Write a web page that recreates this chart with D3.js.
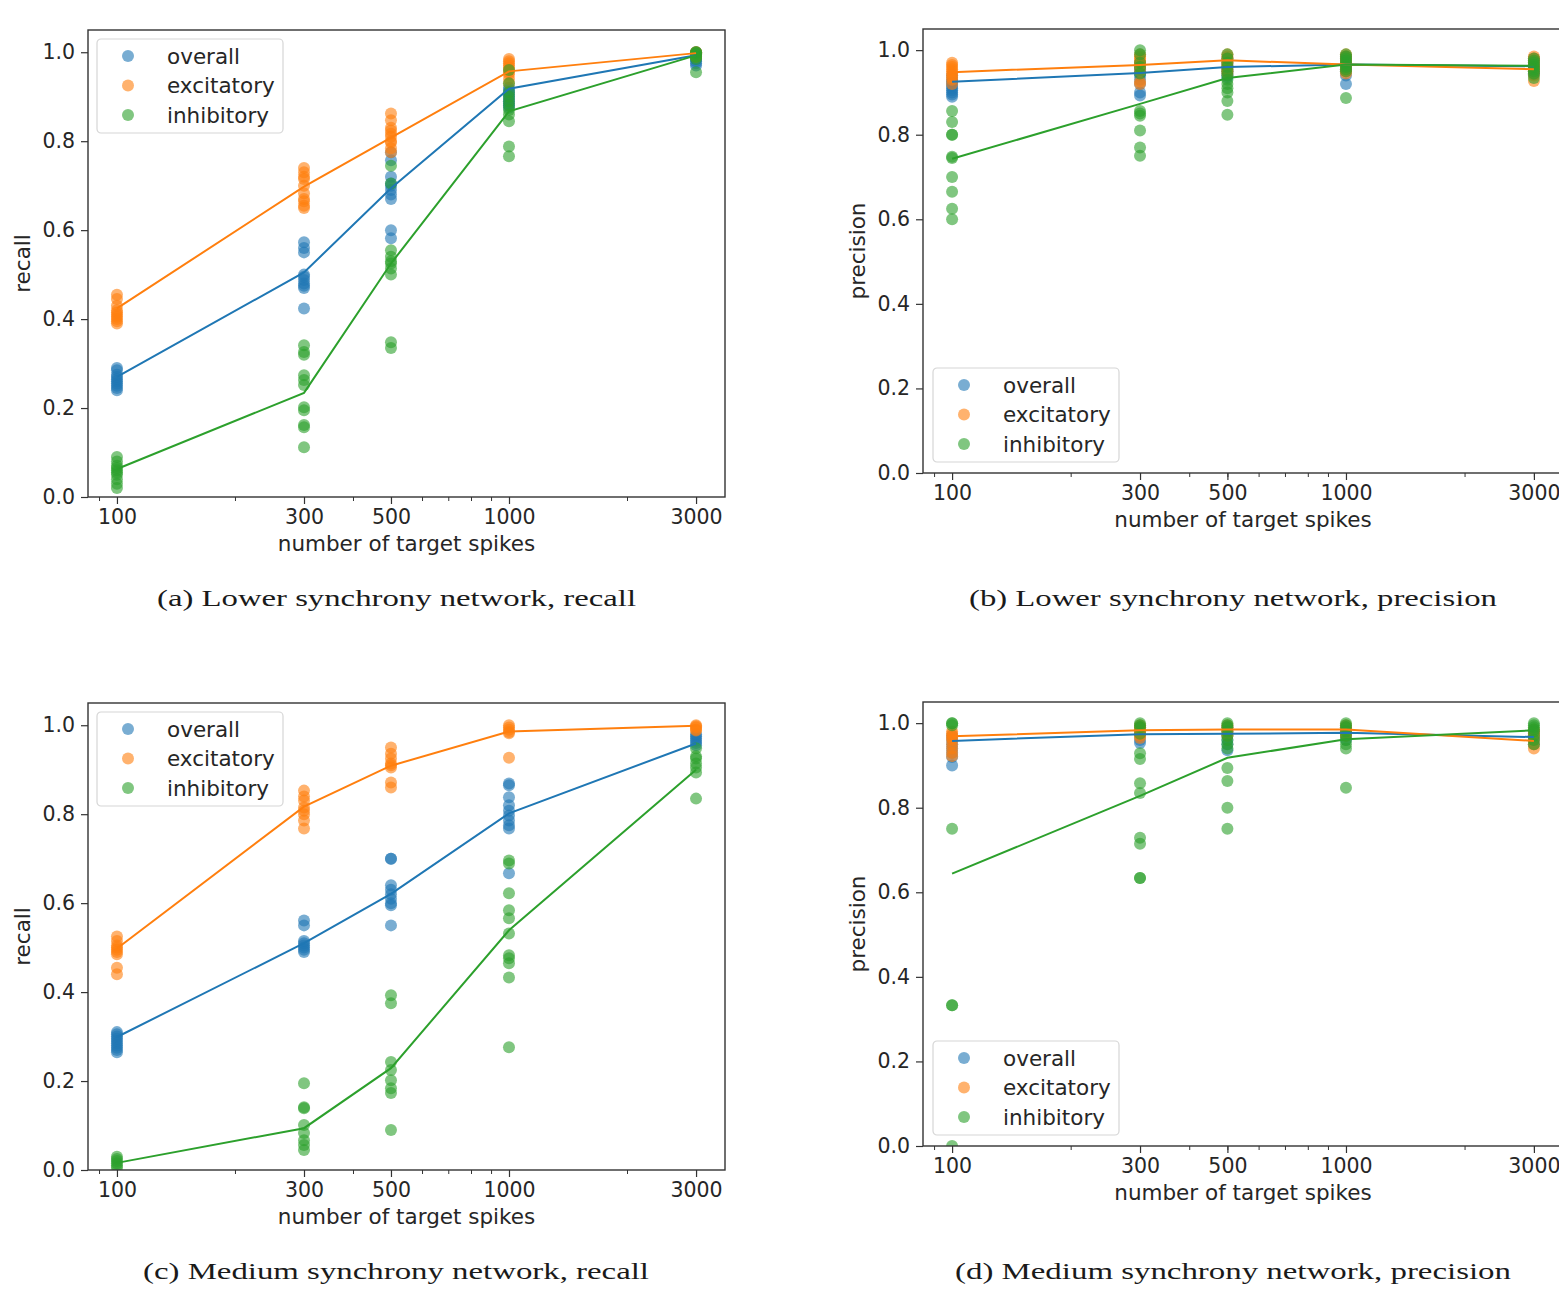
<!DOCTYPE html>
<html>
<head>
<meta charset="utf-8">
<script src="https://cdn.jsdelivr.net/npm/d3@7"></script>
<style>
  body { margin: 0; background: #fff; }
  text { font-family: "DejaVu Sans", sans-serif; fill: #262626; }
  .caption { font-family: "Liberation Serif", serif; fill: #1a1a1a; }
</style>
</head>
<body>
<script>
/*---------- données ----------*/
const spikes = [100, 300, 500, 1000, 3000];
const seriesNames = ["overall", "excitatory", "inhibitory"];
const colors = ["#1f77b4", "#ff7f0e", "#2ca02c"];
const yTicks = [0, 0.2, 0.4, 0.6, 0.8, 1.0];
const xTicks = [100, 300, 500, 1000, 3000];
const xMinor = [90, 200, 300, 400, 500, 600, 700, 800, 900, 2000, 3000];

// (a) lower synchrony, recall
const aOverall = [
  [0.29, 0.285, 0.275, 0.27, 0.265, 0.26, 0.255, 0.25, 0.245, 0.24],
  [0.573, 0.56, 0.55, 0.50, 0.495, 0.488, 0.48, 0.475, 0.47, 0.424],
  [0.775, 0.757, 0.72, 0.705, 0.70, 0.69, 0.68, 0.67, 0.60, 0.582],
  [0.92, 0.915, 0.91, 0.905, 0.90, 0.895, 0.89, 0.885, 0.88, 0.875],
  [1.0, 0.995, 0.99, 0.99, 0.985, 0.985, 0.98, 0.975, 0.97]
];
const aExcit = [
  [0.455, 0.445, 0.43, 0.42, 0.415, 0.41, 0.405, 0.40, 0.395, 0.39],
  [0.74, 0.73, 0.72, 0.715, 0.70, 0.683, 0.67, 0.665, 0.655, 0.65],
  [0.862, 0.847, 0.83, 0.824, 0.817, 0.81, 0.80, 0.797, 0.784, 0.775],
  [0.985, 0.98, 0.975, 0.97, 0.965, 0.96, 0.955, 0.95, 0.94, 0.93],
  [1.0, 1.0, 0.998, 0.998, 0.996, 0.995, 0.994, 0.992, 0.99, 0.99]
];
const aInhib = [
  [0.09, 0.08, 0.07, 0.065, 0.06, 0.055, 0.05, 0.04, 0.03, 0.02],
  [0.341, 0.326, 0.32, 0.274, 0.263, 0.252, 0.202, 0.195, 0.162, 0.157, 0.112],
  [0.745, 0.705, 0.555, 0.54, 0.53, 0.525, 0.514, 0.50, 0.348, 0.335],
  [0.96, 0.93, 0.91, 0.90, 0.89, 0.88, 0.87, 0.86, 0.845, 0.788, 0.766],
  [1.0, 1.0, 0.998, 0.995, 0.99, 0.99, 0.985, 0.955]
];
const aMeans = [
  [0.27, 0.505, 0.694, 0.918, 0.993],
  [0.424, 0.698, 0.808, 0.957, 0.998],
  [0.063, 0.234, 0.525, 0.867, 0.993]
];

// (b) lower synchrony, precision
const bOverall = [
  [0.94, 0.93, 0.925, 0.92, 0.915, 0.91, 0.905, 0.90, 0.895, 0.89],
  [0.97, 0.96, 0.955, 0.95, 0.945, 0.94, 0.93, 0.92, 0.90, 0.893],
  [0.98, 0.975, 0.97, 0.965, 0.96, 0.955, 0.95, 0.945, 0.94, 0.935],
  [0.985, 0.98, 0.975, 0.97, 0.965, 0.96, 0.955, 0.95, 0.94, 0.92],
  [0.98, 0.975, 0.97, 0.965, 0.96, 0.96, 0.955, 0.95, 0.945, 0.943]
];
const bExcit = [
  [0.97, 0.965, 0.96, 0.955, 0.95, 0.945, 0.94, 0.935, 0.93, 0.92],
  [0.99, 0.985, 0.98, 0.975, 0.97, 0.965, 0.96, 0.95, 0.925, 0.92],
  [0.99, 0.985, 0.98, 0.975, 0.97, 0.965, 0.96, 0.955, 0.95, 0.945],
  [0.99, 0.985, 0.98, 0.975, 0.97, 0.965, 0.96, 0.955, 0.95, 0.945],
  [0.985, 0.98, 0.975, 0.97, 0.965, 0.96, 0.955, 0.95, 0.94, 0.927]
];
const bInhib = [
  [0.856, 0.83, 0.80, 0.80, 0.748, 0.745, 0.70, 0.665, 0.625, 0.60],
  [1.0, 0.99, 0.97, 0.96, 0.945, 0.856, 0.85, 0.845, 0.81, 0.77, 0.75],
  [0.99, 0.98, 0.97, 0.96, 0.95, 0.94, 0.93, 0.92, 0.91, 0.90, 0.88, 0.847],
  [0.99, 0.985, 0.98, 0.975, 0.97, 0.965, 0.96, 0.955, 0.95, 0.887],
  [0.98, 0.975, 0.97, 0.965, 0.96, 0.955, 0.95, 0.945, 0.934]
];
const bMeans = [
  [0.925, 0.946, 0.96, 0.966, 0.962],
  [0.948, 0.965, 0.976, 0.966, 0.955],
  [0.743, 0.873, 0.934, 0.966, 0.963]
];

// (c) medium synchrony, recall
const cOverall = [
  [0.31, 0.305, 0.30, 0.295, 0.29, 0.285, 0.28, 0.275, 0.27, 0.265],
  [0.561, 0.55, 0.515, 0.51, 0.505, 0.50, 0.495, 0.49],
  [0.70, 0.70, 0.64, 0.63, 0.62, 0.61, 0.60, 0.595, 0.55],
  [0.869, 0.865, 0.838, 0.82, 0.808, 0.797, 0.786, 0.775, 0.768, 0.667],
  [0.98, 0.975, 0.97, 0.965, 0.96, 0.955]
];
const cExcit = [
  [0.525, 0.515, 0.505, 0.50, 0.495, 0.49, 0.485, 0.455, 0.44],
  [0.853, 0.84, 0.831, 0.815, 0.808, 0.80, 0.786, 0.768],
  [0.95, 0.936, 0.925, 0.914, 0.91, 0.905, 0.871, 0.86],
  [1.0, 0.995, 0.99, 0.985, 0.982, 0.927],
  [1.0, 0.998, 0.995, 0.99, 0.988]
];
const cInhib = [
  [0.03, 0.025, 0.02, 0.015, 0.01, 0.005],
  [0.195, 0.141, 0.139, 0.101, 0.083, 0.067, 0.056, 0.045],
  [0.393, 0.375, 0.243, 0.225, 0.202, 0.184, 0.173, 0.09],
  [0.696, 0.689, 0.622, 0.584, 0.566, 0.532, 0.483, 0.476, 0.465, 0.433, 0.276],
  [0.948, 0.93, 0.925, 0.914, 0.905, 0.894, 0.835]
];
const cMeans = [
  [0.299, 0.51, 0.621, 0.802, 0.959],
  [0.498, 0.817, 0.909, 0.986, 0.999],
  [0.016, 0.094, 0.229, 0.539, 0.9]
];

// (d) medium synchrony, precision
const dOverall = [
  [0.97, 0.96, 0.95, 0.94, 0.93, 0.92, 0.90],
  [0.99, 0.98, 0.97, 0.96, 0.953],
  [0.99, 0.98, 0.97, 0.96, 0.95, 0.936],
  [0.99, 0.985, 0.98, 0.975, 0.97, 0.96],
  [0.98, 0.975, 0.97, 0.965, 0.96, 0.95]
];
const dExcit = [
  [0.98, 0.975, 0.97, 0.965, 0.96, 0.95, 0.94, 0.93, 0.922],
  [0.995, 0.99, 0.985, 0.98, 0.975, 0.97, 0.965],
  [0.995, 0.99, 0.985, 0.98, 0.975, 0.97],
  [0.995, 0.99, 0.985, 0.98, 0.975, 0.97],
  [0.985, 0.98, 0.975, 0.97, 0.96, 0.95, 0.94]
];
const dInhib = [
  [1.0, 1.0, 0.995, 0.75, 0.333, 0.333, 0.0],
  [1.0, 0.995, 0.99, 0.975, 0.929, 0.915, 0.858, 0.835, 0.729, 0.715, 0.634, 0.634],
  [1.0, 0.995, 0.99, 0.98, 0.97, 0.96, 0.95, 0.94, 0.894, 0.863, 0.80, 0.75],
  [1.0, 0.995, 0.99, 0.98, 0.97, 0.96, 0.95, 0.94, 0.847],
  [1.0, 0.995, 0.99, 0.985, 0.98, 0.97, 0.96, 0.95]
];
const dMeans = [
  [0.958, 0.974, 0.975, 0.977, 0.967],
  [0.969, 0.983, 0.985, 0.985, 0.958],
  [0.644, 0.828, 0.918, 0.962, 0.983]
];

/*---------- mise en page ----------*/
const width = 1559, height = 1291;
const tickSize = 20.5;
const labelSize = 21.5;

const panels = [
  { id: "a", pts: [aOverall, aExcit, aInhib], means: aMeans, ylabel: "recall",
    left: 88, right: 725, top: 30, bottom: 497,
    legend: { x: 97, y: 39 }, caption: "(a) Lower synchrony network, recall", capX: 396.5, capY: 606, capW: 479 },
  { id: "b", pts: [bOverall, bExcit, bInhib], means: bMeans, ylabel: "precision",
    left: 923, right: 1563, top: 29, bottom: 473,
    legend: { x: 933, y: 368 }, caption: "(b) Lower synchrony network, precision", capX: 1233, capY: 606, capW: 528 },
  { id: "c", pts: [cOverall, cExcit, cInhib], means: cMeans, ylabel: "recall",
    left: 88, right: 725, top: 703, bottom: 1170,
    legend: { x: 97, y: 712 }, caption: "(c) Medium synchrony network, recall", capX: 396, capY: 1279, capW: 506 },
  { id: "d", pts: [dOverall, dExcit, dInhib], means: dMeans, ylabel: "precision",
    left: 923, right: 1563, top: 702, bottom: 1146,
    legend: { x: 933, y: 1041 }, caption: "(d) Medium synchrony network, precision", capX: 1233, capY: 1279, capW: 556 }
];

const svg = d3.select("body").append("svg")
  .attr("width", width)
  .attr("height", height);

// marges matplotlib de 5% sur l'axe log
const lo = Math.log10(100), hi = Math.log10(3000), m = (hi - lo) * 0.05;
const xDomain = [Math.pow(10, lo - m), Math.pow(10, hi + m)];

panels.forEach(function (p) {
  const g = svg.append("g");

  const x = d3.scaleLog().domain(xDomain).range([p.left, p.right]);
  const y = d3.scaleLinear().domain([0, 1.05]).range([p.bottom, p.top]);

  g.append("clipPath").attr("id", "clip-" + p.id)
    .append("rect")
    .attr("x", p.left).attr("y", p.top)
    .attr("width", p.right - p.left).attr("height", p.bottom - p.top);

  const plot = g.append("g").attr("clip-path", "url(#clip-" + p.id + ")");

  const line = d3.line()
    .x(function (d, i) { return x(spikes[i]); })
    .y(function (d) { return y(d); });

  // points de chaque série
  seriesNames.forEach(function (name, s) {
    const flat = [];
    p.pts[s].forEach(function (vals, i) {
      vals.forEach(function (v) { flat.push({ x: spikes[i], v: v }); });
    });
    plot.append("g")
      .selectAll("circle")
      .data(flat)
      .enter()
      .append("circle")
      .attr("cx", function (d) { return x(d.x); })
      .attr("cy", function (d) { return y(d.v); })
      .attr("r", 6)
      .style("fill", colors[s])
      .style("opacity", 0.6);
  });
  // courbes des moyennes
  seriesNames.forEach(function (name, s) {
    plot.append("path")
      .datum(p.means[s])
      .attr("d", line)
      .attr("fill", "none")
      .attr("stroke", colors[s])
      .attr("stroke-width", 2);
  });

  // axes
  const xAxis = d3.axisBottom(x).tickValues(xTicks).tickFormat(d3.format("d"))
    .tickSize(7).tickPadding(5);
  const xg = g.append("g")
    .attr("transform", "translate(0," + p.bottom + ")")
    .call(xAxis);
  xg.select(".domain").remove();
  xg.selectAll("text").style("font-size", tickSize + "px").style("font-family", "DejaVu Sans").attr("fill", "#262626");
  xg.selectAll("line").attr("stroke", "#333").attr("stroke-width", 1.2);

  const minor = d3.axisBottom(x).tickValues(xMinor).tickFormat("").tickSize(4);
  const mg = g.append("g")
    .attr("transform", "translate(0," + p.bottom + ")")
    .call(minor);
  mg.select(".domain").remove();
  mg.selectAll("line").attr("stroke", "#333").attr("stroke-width", 1);

  const yAxis = d3.axisLeft(y).tickValues(yTicks).tickFormat(d3.format(".1f"))
    .tickSize(7).tickPadding(6);
  const yg = g.append("g")
    .attr("transform", "translate(" + p.left + ",0)")
    .call(yAxis);
  yg.select(".domain").remove();
  yg.selectAll("text").style("font-size", tickSize + "px").style("font-family", "DejaVu Sans").attr("fill", "#262626");
  yg.selectAll("line").attr("stroke", "#333").attr("stroke-width", 1.2);

  // cadre
  g.append("rect")
    .attr("x", p.left).attr("y", p.top)
    .attr("width", p.right - p.left).attr("height", p.bottom - p.top)
    .attr("fill", "none")
    .attr("stroke", "#333")
    .attr("stroke-width", 1.4);

  // titres des axes
  g.append("text")
    .attr("x", (p.left + p.right) / 2)
    .attr("y", p.bottom + 46)
    .attr("dy", "0.35em")
    .attr("text-anchor", "middle")
    .style("font-size", labelSize + "px")
    .text("number of target spikes");

  const yl = p.left - 66;
  g.append("text")
    .attr("transform", "translate(" + yl + "," + (p.top + p.bottom) / 2 + ") rotate(-90)")
    .attr("dy", "0.35em")
    .attr("text-anchor", "middle")
    .style("font-size", labelSize + "px")
    .text(p.ylabel);

  // légende
  const lg = g.append("g").attr("transform", "translate(" + p.legend.x + "," + p.legend.y + ")");
  lg.append("rect")
    .attr("width", 186).attr("height", 94).attr("rx", 4)
    .attr("fill", "#fff").attr("fill-opacity", 0.8)
    .attr("stroke", "#d6d6d6").attr("stroke-width", 1.2);
  seriesNames.forEach(function (name, s) {
    const row = 17 + s * 29.5;
    lg.append("circle")
      .attr("cx", 31).attr("cy", row).attr("r", 6)
      .style("fill", colors[s]).style("opacity", 0.6);
    lg.append("text")
      .attr("x", 70).attr("y", row)
      .attr("dy", "0.35em")
      .style("font-size", labelSize + "px")
      .text(name);
  });

  // légende de sous-figure
  svg.append("text")
    .attr("class", "caption")
    .attr("x", p.capX - p.capW / 2)
    .attr("y", p.capY)
    .attr("textLength", p.capW)
    .attr("lengthAdjust", "spacingAndGlyphs")
    .style("font-size", "24px")
    .text(p.caption);
});
</script>
</body>
</html>
